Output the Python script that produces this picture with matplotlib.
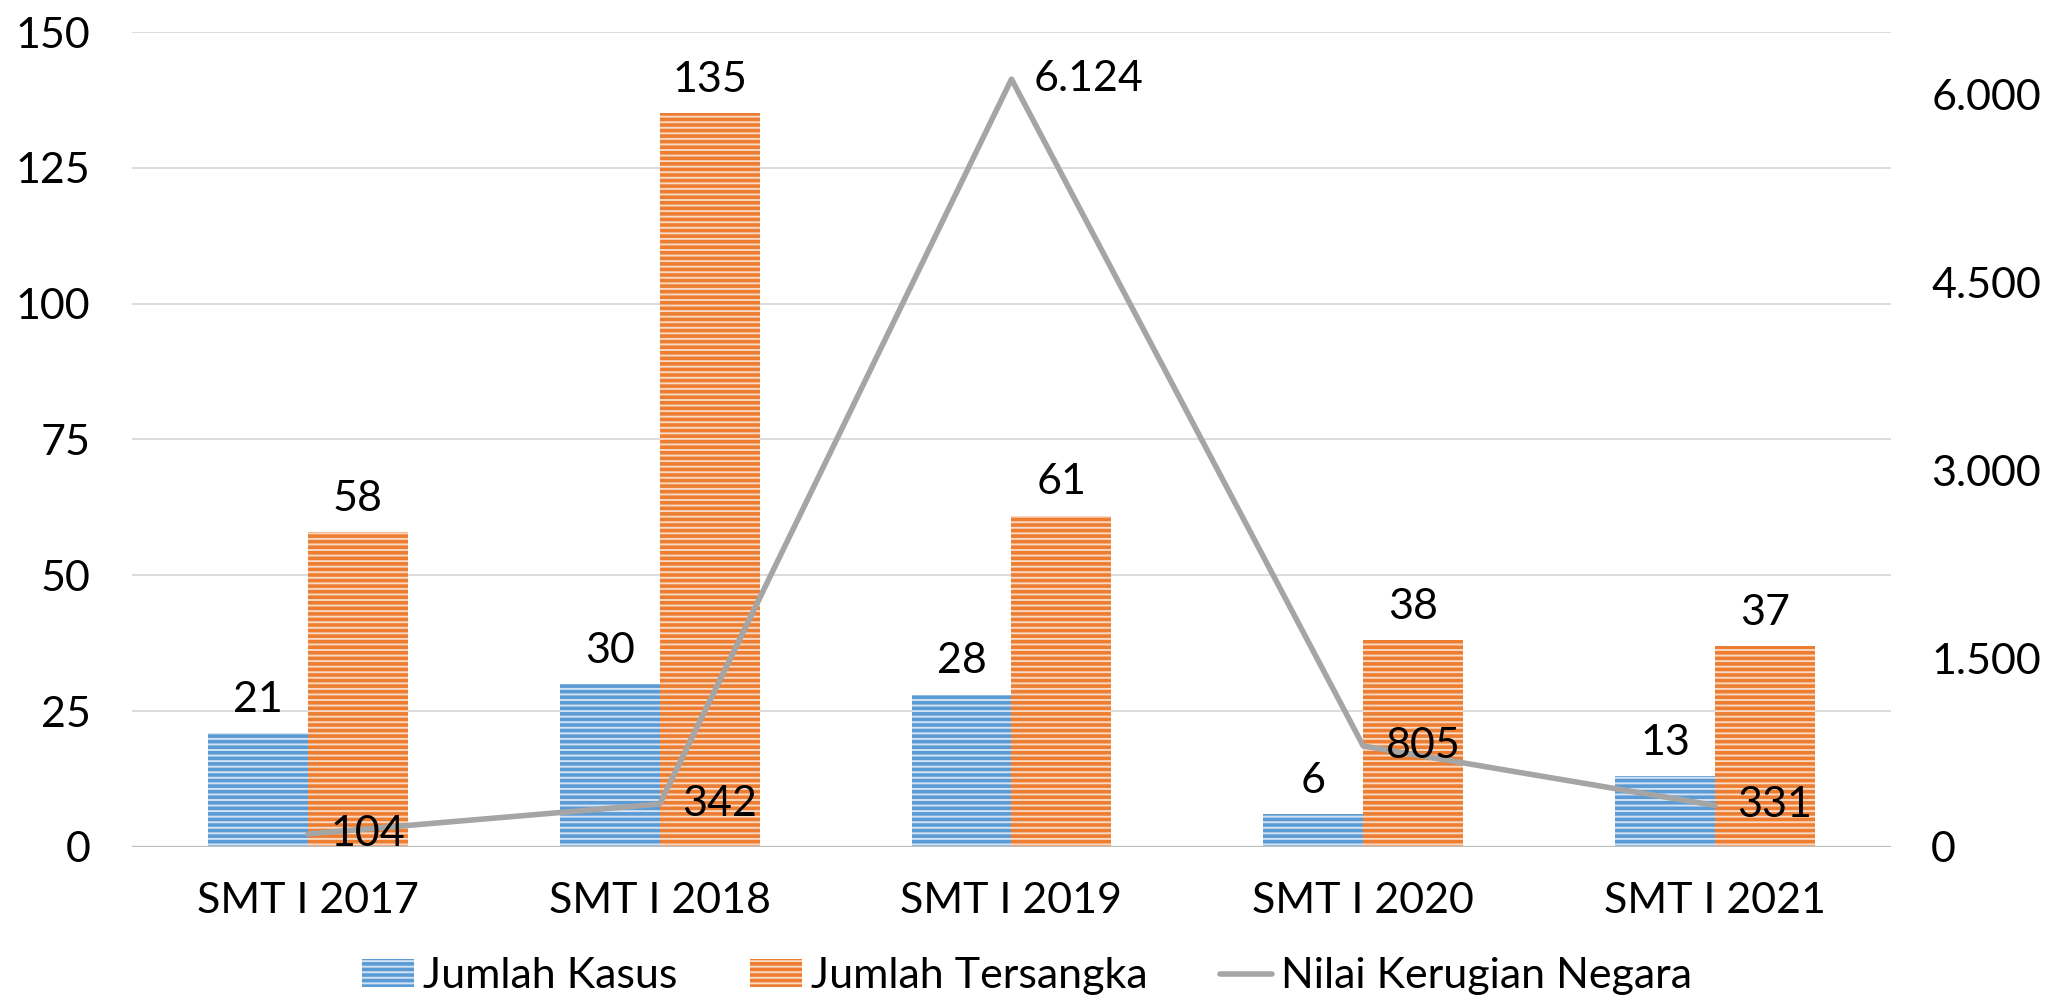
import matplotlib as mpl
import matplotlib.pyplot as plt
import numpy as np
from matplotlib.ticker import FuncFormatter

# data
categories = ['SMT I 2017', 'SMT I 2018', 'SMT I 2019', 'SMT I 2020', 'SMT I 2021']
jumlah_kasus = [21, 30, 28, 6, 13]
jumlah_tersangka = [58, 135, 61, 38, 37]
nilai_kerugian = [104, 342, 6124, 805, 331]

# style
mpl.rcParams['font.family'] = ['Lato', 'DejaVu Sans']
mpl.rcParams['hatch.linewidth'] = 2.6
fs = 31
blue = '#5B9BD5'
orange = '#ED7D31'
gray = '#A5A5A5'

def dotfmt(v, pos=None):
    return '{:,.0f}'.format(v).replace(',', '.')

fig = plt.figure(figsize=(20.54, 9.97), dpi=100)
ax = fig.add_axes([0.0643, 0.1505, 0.8563, 0.8174])
ax2 = ax.twinx()

x = np.arange(len(categories))
w = 0.284

b1 = ax.bar(x - w/2, jumlah_kasus, w, color='#D3E3F4', edgecolor=blue,
            linewidth=0, hatch='---', label='Jumlah Kasus')
b2 = ax.bar(x + w/2, jumlah_tersangka, w, color='#F9D9C3', edgecolor=orange,
            linewidth=0, hatch='---', label='Jumlah Tersangka')

for xi, v in zip(x - w/2, jumlah_kasus):
    ax.annotate(str(v), (xi, v), xytext=(0, 24), textcoords='offset points',
                ha='center', va='center', fontsize=fs)
for xi, v in zip(x + w/2, jumlah_tersangka):
    ax.annotate(str(v), (xi, v), xytext=(0, 24), textcoords='offset points',
                ha='center', va='center', fontsize=fs)

ln, = ax2.plot(x, nilai_kerugian, color=gray, lw=4, solid_joinstyle='round',
               solid_capstyle='round', label='Nilai Kerugian Negara')
for xi, v in zip(x, nilai_kerugian):
    ax2.annotate(dotfmt(v), (xi, v), xytext=(16, 0), textcoords='offset points',
                 ha='left', va='center', fontsize=fs, zorder=5)

# axes
ax.set_xlim(-0.5, 4.5)
ax.set_ylim(0, 150)
ax.set_yticks(np.arange(0, 151, 25))
ax2.set_ylim(0, 6500)
ax2.set_yticks(np.arange(0, 6001, 1500))
ax2.yaxis.set_major_formatter(FuncFormatter(dotfmt))
ax.set_xticks(x)
ax.set_xticklabels(categories)

ax.grid(axis='y', color='#D9D9D9', lw=1.3)
ax.set_axisbelow(True)
for a in (ax, ax2):
    for s in ['top', 'left', 'right', 'bottom']:
        a.spines[s].set_visible(False)
ax.axhline(0, color='#BFBFBF', lw=2.4, zorder=1)
ax.tick_params(axis='both', length=0, labelsize=fs)
ax.tick_params(axis='y', pad=30)
ax.tick_params(axis='x', pad=25)
ax2.tick_params(axis='y', length=0, labelsize=fs, pad=29)

fig.legend(handles=[b1, b2, ln], loc='center', bbox_to_anchor=(0.5, 0.021),
           ncol=3, frameon=False, fontsize=fs, handlelength=1.2,
           handleheight=0.6, handletextpad=0.2, columnspacing=1.7)

plt.savefig('out.png', dpi=100)
